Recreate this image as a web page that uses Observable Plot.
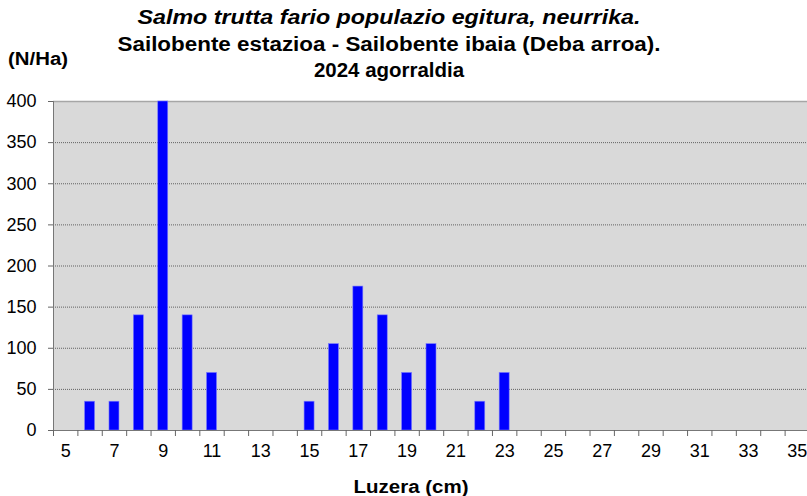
<!DOCTYPE html>
<html>
<head>
<meta charset="utf-8">
<script src="https://cdn.jsdelivr.net/npm/d3@7"></script>
<script src="https://cdn.jsdelivr.net/npm/@observablehq/plot@0.6"></script>
<style>
  html, body { margin: 0; padding: 0; background: #fff; overflow: hidden; }
  #chart svg { display: block; font-family: "Liberation Sans", Arial, sans-serif; }
</style>
</head>
<body>
<div id="chart"></div>
<script>
// Length classes (cm) and trout density per class (N/Ha)
const lengths = [5, 6, 7, 8, 9, 10, 11, 12, 13, 14, 15, 16, 17, 18, 19, 20,
                 21, 22, 23, 24, 25, 26, 27, 28, 29, 30, 31, 32, 33, 34, 35];
const density = [0, 35, 35, 140, 400, 140, 70, 0, 0, 0, 35, 105, 175, 140, 70, 105,
                 0, 35, 70, 0, 0, 0, 0, 0, 0, 0, 0, 0, 0, 0, 0];
const xTickLabels = [5, 7, 9, 11, 13, 15, 17, 19, 21, 23, 25, 27, 29, 31, 33, 35];
const yTicks = [0, 50, 100, 150, 200, 250, 300, 350, 400];
const titleLines = [
  "Salmo trutta fario populazio egitura, neurrika.",
  "Sailobente estazioa - Sailobente ibaia (Deba arroa).",
  "2024 agorraldia"
];
const yLabel = "(N/Ha)";
const xLabel = "Luzera (cm)";

const rows = lengths.map((len, i) => ({len, n: density[i]}));
// class boundaries sit halfway between neighbouring lengths
const boundaries = [lengths[0] - 0.5, ...lengths.map(l => l + 0.5)];

const plot = Plot.plot({
  width: 807,
  height: 496,
  marginTop: 101,
  marginBottom: 66,
  marginLeft: 53,
  marginRight: -2,
  style: {fontFamily: "'Liberation Sans', Arial, sans-serif", fontSize: "18px", color: "#000", background: "#fff"},
  x: {type: "linear", domain: [lengths[0] - 0.5, lengths[lengths.length - 1] + 0.5]},
  y: {domain: [0, 400]},
  marks: [
    Plot.frame({fill: "#d9d9d9", stroke: null}),
    Plot.ruleY(yTicks.filter(v => v > 0 && v < 400), {stroke: "#555", strokeWidth: 1, strokeDasharray: "1,1", strokeOpacity: 0.9}),
    Plot.ruleY([400], {stroke: "#a6a6a6", strokeWidth: 1.5}),
    Plot.rectY(rows.filter(d => d.n > 0), {
      x1: d => d.len - 0.5,
      x2: d => d.len + 0.5,
      y1: 0,
      y2: "n",
      insetLeft: 7.2,
      insetRight: 7.2,
      fill: "#0000ff",
      stroke: "#7a7aff",
      strokeWidth: 0.6
    }),
    Plot.axisY({ticks: yTicks, tickSize: 5, tickPadding: 12, label: null, stroke: "#666", fontSize: 18}),
    Plot.ruleX([lengths[0] - 0.5], {stroke: "#777", strokeWidth: 1}),
    Plot.ruleY([0], {stroke: "#777", strokeWidth: 1}),
    Plot.axisX({ticks: boundaries, tickSize: 6, tickFormat: () => "", label: null, stroke: "#666"}),
    Plot.axisX({ticks: xTickLabels, tickSize: 0, tickPadding: 14, label: null, fontSize: 18})
  ]
});

const svg = d3.select(plot);
// heading lines, each stretched to its set width
const titleWidths = [503, 543, 150];
titleLines.forEach((t, i) => {
  svg.append("text")
    .attr("x", 389)
    .attr("y", 24 + i * 26.5)
    .attr("text-anchor", "middle")
    .attr("font-size", 20)
    .attr("font-weight", "bold")
    .attr("font-style", i === 0 ? "italic" : "normal")
    .attr("fill", "#000")
    .attr("textLength", titleWidths[i])
    .attr("lengthAdjust", "spacingAndGlyphs")
    .text(t);
});
svg.append("text")
  .attr("x", 8)
  .attr("y", 65)
  .attr("text-anchor", "start")
  .attr("font-size", 18)
  .attr("font-weight", "bold")
  .attr("fill", "#000")
  .attr("textLength", 60)
  .attr("lengthAdjust", "spacingAndGlyphs")
  .text(yLabel);
svg.append("text")
  .attr("x", 411)
  .attr("y", 493)
  .attr("text-anchor", "middle")
  .attr("font-size", 18)
  .attr("font-weight", "bold")
  .attr("fill", "#000")
  .attr("textLength", 115)
  .attr("lengthAdjust", "spacingAndGlyphs")
  .text(xLabel);

document.getElementById("chart").appendChild(plot);
</script>
</body>
</html>
